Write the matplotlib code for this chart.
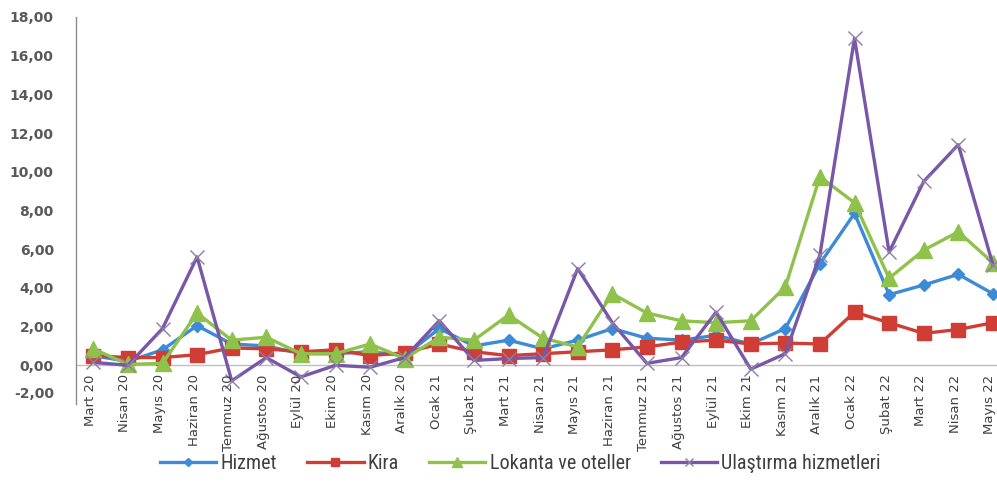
import matplotlib
matplotlib.use("Agg")
import matplotlib.pyplot as plt
from matplotlib import font_manager
from matplotlib.transforms import ScaledTranslation, offset_copy

categories = ["Mart 20", "Nisan 20", "Mayıs 20", "Haziran 20", "Temmuz 20", "Ağustos 20",
              "Eylül 20", "Ekim 20", "Kasım 20", "Aralık 20", "Ocak 21", "Şubat 21",
              "Mart 21", "Nisan 21", "Mayıs 21", "Haziran 21", "Temmuz 21", "Ağustos 21",
              "Eylül 21", "Ekim 21", "Kasım 21", "Aralık 21", "Ocak 22", "Şubat 22",
              "Mart 22", "Nisan 22", "Mayıs 22"]

hizmet = [0.5, 0.2, 0.8, 2.05, 1.1, 1.0, 0.6, 0.6, 0.7, 0.5, 1.9, 1.0, 1.3, 0.85,
          1.3, 1.9, 1.4, 1.3, 1.55, 1.1, 1.9, 5.25, 7.85, 3.65, 4.15, 4.7, 3.7]
kira = [0.5, 0.4, 0.4, 0.55, 0.9, 0.85, 0.7, 0.8, 0.5, 0.65, 1.1, 0.7, 0.5, 0.6,
        0.7, 0.8, 0.95, 1.2, 1.3, 1.1, 1.15, 1.1, 2.75, 2.2, 1.65, 1.85, 2.2]
lokanta = [0.85, 0.05, 0.1, 2.7, 1.3, 1.45, 0.6, 0.6, 1.1, 0.35, 1.45, 1.3, 2.6, 1.4,
           0.95, 3.7, 2.7, 2.3, 2.2, 2.3, 4.05, 9.75, 8.4, 4.5, 5.95, 6.9, 5.3]
ulastirma = [0.15, 0.0, 1.9, 5.6, -0.8, 0.4, -0.6, 0.0, -0.1, 0.4, 2.3, 0.25, 0.35, 0.4,
             5.0, 2.2, 0.1, 0.4, 2.75, -0.2, 0.6, 5.7, 16.9, 5.85, 9.5, 11.4, 5.2]

series_names = ["Hizmet", "Kira", "Lokanta ve oteller", "Ulaştırma hizmetleri"]
yticks = [-2, 0, 2, 4, 6, 8, 10, 12, 14, 16, 18]

available = {f.name for f in font_manager.fontManager.ttflist}
legend_family = "DejaVu Sans"
for cand in ["Liberation Sans Narrow", "Roboto Condensed", "Open Sans Condensed"]:
    if cand in available:
        legend_family = cand
        break
legend_size = 14.5 if legend_family != "DejaVu Sans" else 11

W, H = 997, 496
fig = plt.figure(figsize=(W / 100, H / 100), dpi=100)
left_px, top_px, bottom_px = 76, 17, 404
ax = fig.add_axes([left_px / W, 1 - bottom_px / H, 1 - left_px / W, (bottom_px - top_px) / H])

x = list(range(len(categories)))
spacing = 34.6
ax.set_xlim(-0.5, -0.5 + (W - left_px) / spacing)
ax.set_ylim(-2, 18)

lw = 2.4
ax.plot(x, hizmet, color="#3D8BD6", lw=lw, marker="D", ms=6.5, mec="#3D8BD6", label=series_names[0])
ax.plot(x, kira, color="#CF3D35", lw=lw, marker="s", ms=10, mec="#CF3D35", label=series_names[1])
ax.plot(x, lokanta, color="#8FC24B", lw=lw, marker="^", ms=11, mec="#8FC24B", label=series_names[2])
ax.plot(x, ulastirma, color="#7857A8", lw=lw, marker="x", ms=10, mew=1.0, mec="#8C7FA6", label=series_names[3])

ax.axhline(0, color="#BFBFBF", lw=1.0, zorder=0)

for s in ["top", "right", "bottom"]:
    ax.spines[s].set_visible(False)
ax.spines["left"].set_color("#8C8C8C")
ax.spines["left"].set_linewidth(1.0)

ax.set_xticks([])
ax.set_yticks(yticks)
ax.set_yticklabels([f"{v:.2f}".replace(".", ",") for v in yticks],
                   fontsize=10, color="#595959", fontweight="bold", family="DejaVu Sans")
ax.tick_params(axis="y", length=0, pad=16)
lbl = ax.get_yticklabels()[0]
lbl.set_transform(lbl.get_transform() + ScaledTranslation(0, 11 / 100, fig.dpi_scale_trans))

trans = offset_copy(ax.transData, fig=fig, x=-3, y=-9, units="dots")
for i, c in enumerate(categories):
    ax.text(i, 0, c, rotation=90, ha="center", va="top", fontsize=9.5,
            color="#404040", transform=trans, family="DejaVu Sans", clip_on=False)

leg = fig.legend(loc="center", bbox_to_anchor=(0.522, 0.066), ncol=4, frameon=False,
                 handlelength=2.8, columnspacing=1.5, handletextpad=0.2, markerscale=0.6,
                 prop={"family": legend_family, "size": legend_size})
for t in leg.get_texts():
    t.set_color("#3F3F3F")

fig.savefig("out.png", dpi=100)
